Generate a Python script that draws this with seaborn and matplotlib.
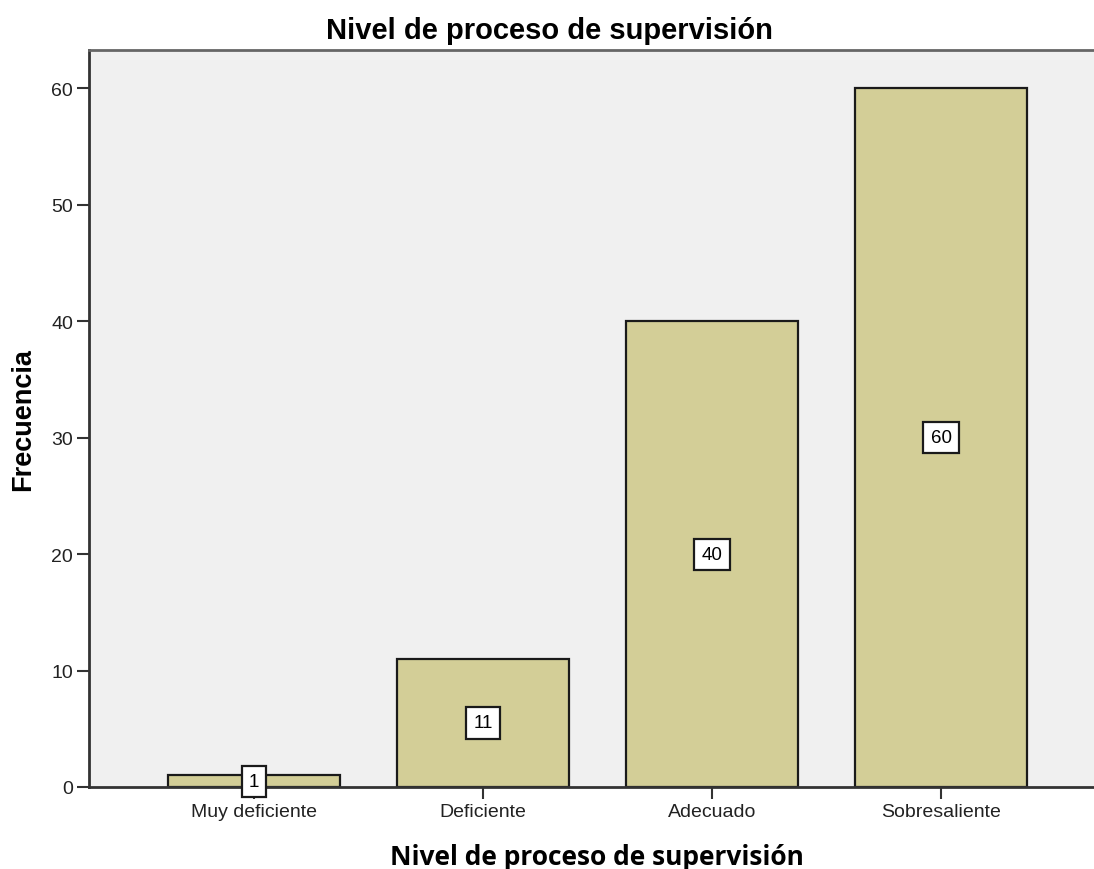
import matplotlib
matplotlib.use("Agg")
import matplotlib.pyplot as plt
import seaborn as sns
import pandas as pd

categories = ["Muy deficiente", "Deficiente", "Adecuado", "Sobresaliente"]
frecuencias = [1, 11, 40, 60]
yticks = [0, 10, 20, 30, 40, 50, 60]
title_text = "Nivel de proceso de supervisión"
xlabel_text = "Nivel de proceso de supervisión"
ylabel_text = "Frecuencia"

sns.set_theme(style="ticks")
plt.rcParams["font.family"] = ["Liberation Sans", "DejaVu Sans"]

df = pd.DataFrame({"categoria": categories, "frecuencia": frecuencias})

W, H = 1094, 870
fig = plt.figure(figsize=(W / 100, H / 100), dpi=100)
left, right, top, bottom = 89, 1094, 51, 788
ax = fig.add_axes([left / W, (H - bottom) / H, (right - left) / W, (bottom - top) / H])
ax.set_facecolor("#F0F0F0")

sns.barplot(data=df, x="categoria", y="frecuencia", order=categories,
            color="#D3CE97", saturation=1, edgecolor="#1a1a1a", linewidth=1.6,
            width=0.75, ax=ax)

ax.set_xlim(-0.72, 3.668)
ax.set_ylim(0, 63.3)
ax.set_yticks(yticks)

for c in ax.containers:
    ax.bar_label(c, label_type="center", fontsize=13.5, color="black",
                 bbox=dict(boxstyle="square,pad=0.38", facecolor="white",
                           edgecolor="#1a1a1a", linewidth=1.6))

for s in ["left", "bottom"]:
    ax.spines[s].set_color("#333333")
    ax.spines[s].set_linewidth(2)
ax.spines["top"].set_color("#666666")
ax.spines["top"].set_linewidth(2)
ax.spines["right"].set_visible(False)

ax.tick_params(axis="both", direction="out", length=8.5, width=1.5,
               color="#333333", labelsize=14, labelcolor="#222222", pad=3)

ax.set_title(title_text, fontsize=21, fontweight="bold", color="black",
             x=(549.5 - left) / (right - left), y=(bottom - 31) / (bottom - top),
             va="center", pad=0)

ax.set_xlabel(xlabel_text, fontsize=19, fontweight="bold", color="black",
              family=["Open Sans", "DejaVu Sans"])
ax.xaxis.set_label_coords((597 - left) / (right - left), -(858 - bottom) / (bottom - top))
ax.xaxis.label.set_va("center")

ax.set_ylabel(ylabel_text, fontsize=19.5, fontweight="bold", color="black")
ax.yaxis.set_label_coords((23 - left) / (right - left), 0.5)
ax.yaxis.label.set_va("center")

fig.savefig("out.png", dpi=100, facecolor="white")
